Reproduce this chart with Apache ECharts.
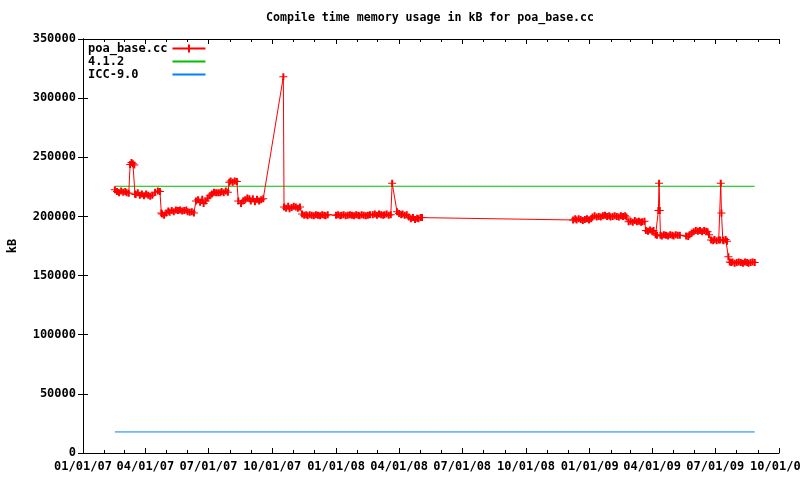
<!DOCTYPE html>
<html><head><meta charset="utf-8">
<script src="https://cdn.jsdelivr.net/npm/echarts@6/dist/echarts.min.js"></script>
<style>html,body{margin:0;padding:0;background:#fff}#c{width:800px;height:480px}</style>
</head><body><div id="c"></div>
<script>
// x values: days since 2007-01-01
const tickLabels = ['01/01/07','04/01/07','07/01/07','10/01/07','01/01/08','04/01/08','07/01/08','10/01/08','01/01/09','04/01/09','07/01/09','10/01/09'];
const yTicks = [0, 50000, 100000, 150000, 200000, 250000, 300000, 350000];

const poaDays = [46,49,52,55,58,61,63,66,68,70,72,74,75,76,79,82,85,88,91,94,97,100,104,108,111,113,114,117,120,123,125,128,131,134,137,140,143,146,149,151,154,157,160,163,166,169,172,174,177,180,183,186,189,192,195,198,200,203,206,209,211,213,216,219,222,224,228,231,234,237,240,242,245,248,251,254,257,260,289,290,293,296,298,301,304,307,310,313,316,319,322,324,327,330,333,336,339,342,345,348,350,353,365,368,371,373,376,379,382,385,388,391,394,397,399,402,405,408,411,414,418,421,424,427,430,433,435,438,441,444,446,453,456,459,461,464,467,470,473,476,479,482,484,487,489,707,710,712,715,718,721,724,727,730,733,735,738,741,744,747,750,753,756,759,761,764,767,770,773,776,779,782,784,787,790,793,796,799,802,805,807,810,812,815,818,821,823,826,828,830,831,832,833,835,838,841,844,847,850,852,855,858,861,870,873,875,878,881,884,887,890,893,896,899,901,903,906,909,911,914,917,919,920,921,923,924,927,929,931,933,935,937,940,943,946,949,952,955,958,960,963,966,969];
const poaKB = [222500,221000,220000,221500,220500,221000,220000,219500,244000,245500,244500,243500,219000,218500,220000,218000,219000,217500,219000,218000,217000,218000,220500,221500,221000,203000,202000,201000,203000,204500,203500,205000,204000,205500,205000,205500,204500,205000,205500,204000,203500,204000,203000,213000,214000,212000,214500,211000,213000,215500,217500,219000,220500,220000,220000,220000,221000,220000,221500,220500,229000,230000,229000,230000,229500,213000,211000,213000,214000,215500,215000,213000,215000,212500,214500,213000,214000,215000,318000,208000,207000,208500,206500,207500,208500,208000,207000,208000,202000,201000,201500,200500,201500,201000,200500,201500,201000,200500,201500,201000,200500,201500,201000,201500,200500,201000,201500,200500,201000,201500,201000,200500,201500,201000,200500,201500,201000,200500,201000,201500,201500,202000,201000,202000,201500,201000,201500,202000,201000,201500,228000,204000,202500,201500,202000,201000,201500,199500,198000,199000,197500,198500,198000,199000,199000,197000,198000,197000,198000,197500,196500,197500,198000,197000,198000,199500,200500,199500,200000,199500,200500,201000,200000,200500,199500,200000,200500,200000,199500,200500,200000,200500,199500,195500,196000,195000,196500,195500,196000,195000,195500,196000,188000,187500,188500,187500,188000,184500,184000,205000,228000,205000,184000,183500,184500,184000,183500,184500,184000,183500,184500,184000,184000,183500,183000,184500,186000,187000,188000,187500,188000,187000,188000,187500,187000,184500,180000,179500,180500,179500,180000,180000,228000,203000,180000,179500,180500,179000,166000,161500,161000,161500,160500,161000,161500,161000,160500,161500,161000,160500,161000,161500,161000];

const gccDays = [46, 969];
const gccKB = [225500, 225500];
const iccDays = [46, 969];
const iccKB = [17800, 17800];

function labelToDay(s) {
  const p = s.split('/').map(Number);
  return (Date.UTC(2000 + p[2], p[0] - 1, p[1]) - Date.UTC(2007, 0, 1)) / 86400000;
}
const majorDays = tickLabels.map(labelToDay);
const minorDays = [];
for (let i = 0; i <= 33; i++) minorDays.push((Date.UTC(2007, i, 1) - Date.UTC(2007, 0, 1)) / 86400000);
const xMax = majorDays[majorDays.length - 1];
const labelOf = {};
majorDays.forEach((d, i) => { labelOf[d] = tickLabels[i]; });

const FONT = '"DejaVu Sans Mono", monospace';
const plus = 'path://M3,0H5V3H8V4H5V7H3V4H0V3H3Z';
const black = '#000';
const zip = (a, b) => a.map((v, i) => [v, b[i]]);

function xAx(position, ticks, len, showLine, showLabel) {
  return {
    type: 'value', position: position, min: 0, max: xMax,
    axisLine: { show: showLine, lineStyle: { color: black, width: 1 } },
    axisTick: { show: true, inside: true, length: len, customValues: ticks, lineStyle: { color: black } },
    axisLabel: showLabel ? {
      show: true, customValues: majorDays, margin: 8, color: black,
      fontFamily: FONT, fontSize: 12, fontWeight: 'bold',
      formatter: v => labelOf[v] || ''
    } : { show: false },
    splitLine: { show: false }
  };
}
function yAx(position, showLabel) {
  return {
    type: 'value', position: position, min: 0, max: 350000, interval: 50000,
    name: showLabel ? 'kB' : '', nameLocation: 'middle', nameRotate: 90, nameGap: 64,
    nameTextStyle: { fontFamily: FONT, fontSize: 12, fontWeight: 'bold', color: black },
    axisLine: { show: true, lineStyle: { color: black, width: 1 } },
    axisTick: { show: true, inside: true, length: 5, lineStyle: { color: black } },
    axisLabel: showLabel ? { show: true, margin: 7, color: black, fontFamily: FONT, fontSize: 12, fontWeight: 'bold', formatter: v => String(v) } : { show: false },
    splitLine: { show: false }
  };
}

const chart = echarts.init(document.getElementById('c'), null, { renderer: 'canvas' });
chart.setOption({
  animation: false,
  backgroundColor: '#fff',
  title: {
    text: 'Compile time memory usage in kB for poa_base.cc',
    left: 266, top: 12, padding: 0,
    textStyle: { fontFamily: FONT, fontSize: 11.6, fontWeight: 'bold', color: black }
  },
  legend: {
    orient: 'vertical', left: 88, top: 42, padding: 0, align: 'right',
    itemWidth: 33, itemHeight: 10, itemGap: 0, selectedMode: false,
    formatter: name => name.padEnd(11, '\u00a0'),
    textStyle: { fontFamily: FONT, fontSize: 12, fontWeight: 'bold', color: black, lineHeight: 13 },
    data: [
      { name: 'poa_base.cc' },
      { name: '4.1.2', itemStyle: { opacity: 0 } },
      { name: 'ICC-9.0', itemStyle: { opacity: 0 } }
    ]
  },
  grid: { left: 83, right: 21, top: 39, bottom: 27, containLabel: false, outerBoundsMode: 'none' },
  xAxis: [
    xAx('bottom', majorDays, 5, true, true),
    xAx('bottom', minorDays, 3, false, false),
    xAx('top', majorDays, 5, true, false),
    xAx('top', minorDays, 3, false, false)
  ],
  yAxis: [yAx('left', true), yAx('right', false)],
  series: [
    {
      name: 'poa_base.cc', type: 'line', xAxisIndex: 0, yAxisIndex: 0,
      data: zip(poaDays, poaKB), symbol: plus, symbolSize: [8, 7], showSymbol: true,
      lineStyle: { color: '#ff0000', width: 1 }, itemStyle: { color: '#ff0000' },
      silent: true, z: 3
    },
    {
      name: '4.1.2', type: 'line', xAxisIndex: 0, yAxisIndex: 0,
      data: zip(gccDays, gccKB), symbol: 'none',
      lineStyle: { color: '#00c000', width: 1 }, itemStyle: { color: '#00c000' }, silent: true, z: 2
    },
    {
      name: 'ICC-9.0', type: 'line', xAxisIndex: 0, yAxisIndex: 0,
      data: zip(iccDays, iccKB), symbol: 'none',
      lineStyle: { color: '#0080ff', width: 1 }, itemStyle: { color: '#0080ff' }, silent: true, z: 2
    }
  ]
});
</script></body></html>
